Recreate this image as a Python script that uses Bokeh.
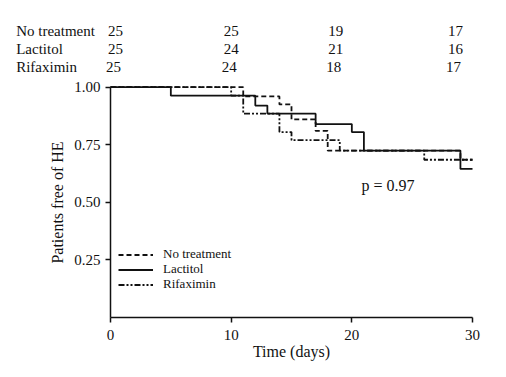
from bokeh.plotting import figure
from bokeh.models import Legend, LegendItem, Label, FixedTicker, Range1d
from bokeh.embed import file_html
from bokeh.resources import INLINE

# ---- data ----
groups = ["No treatment", "Lactitol", "Rifaximin"]
no_treat_t = [0, 11, 14, 15, 17, 18, 29, 30]
no_treat_s = [1.0, 0.96, 0.925, 0.86, 0.81, 0.725, 0.685, 0.685]
lactitol_t = [0, 5, 12, 13, 17, 20, 21, 29, 30]
lactitol_s = [1.0, 0.963, 0.92, 0.885, 0.84, 0.805, 0.725, 0.645, 0.645]
rifaximin_t = [0, 10, 11, 14, 15, 19, 26, 30]
rifaximin_s = [1.0, 0.963, 0.885, 0.805, 0.77, 0.725, 0.685, 0.685]
risk_times = [0, 10, 20, 30]
risk_no_treat = [25, 25, 19, 17]
risk_lactitol = [25, 24, 21, 16]
risk_rifaximin = [25, 24, 18, 17]
x_ticks = [0, 10, 20, 30]
y_ticks = [0.25, 0.5, 0.75, 1.0]
p_text = "p = 0.97"

FONT = "Liberation Serif"
INK = "#111111"

# layout geometry (pixels): axis origin at (110, 317), x=30 at 472, y=1 at 86.7
W, H = 500, 370
LEFT, TOP, BOTTOM, RIGHT = 5, 15, 3, 6
AX_X0, AX_X1 = 110, 472
AX_Y0, AX_Y1 = 317, 86.7
PPX = (AX_X1 - AX_X0) / 30.0
PPY = (AX_Y0 - AX_Y1) / 1.0


def xd(px):
    return (px - AX_X0) / PPX


def yd(py):
    return (AX_Y0 - py) / PPY


p = figure(width=W, height=H, output_backend="svg", toolbar_location=None,
           x_range=Range1d(xd(LEFT), xd(W - RIGHT)), y_range=Range1d(yd(H - BOTTOM), yd(TOP)),
           min_border_left=LEFT, min_border_right=RIGHT, min_border_top=TOP, min_border_bottom=BOTTOM)
p.outline_line_color = None
p.xgrid.visible = False
p.ygrid.visible = False
p.background_fill_color = "white"
p.border_fill_color = "white"

for ax in (p.xaxis[0], p.yaxis[0]):
    ax.axis_line_color = INK
    ax.axis_line_width = 1.5
    ax.major_tick_line_color = INK
    ax.major_tick_line_width = 1.5
    ax.major_tick_out = 5
    ax.major_tick_in = 0
    ax.minor_tick_line_color = None
    ax.major_label_text_font = FONT
    ax.major_label_text_font_size = "15px"
    ax.major_label_text_color = INK
    ax.axis_label_text_font = FONT
    ax.axis_label_text_font_size = "16px"
    ax.axis_label_text_font_style = "normal"
    ax.axis_label_text_color = INK

p.xaxis[0].ticker = FixedTicker(ticks=x_ticks)
p.xaxis[0].bounds = (0, 30)
p.xaxis[0].fixed_location = 0
p.yaxis[0].ticker = FixedTicker(ticks=y_ticks)
p.yaxis[0].bounds = (0, 1)
p.yaxis[0].fixed_location = 0
p.yaxis[0].major_label_overrides = {t: f"{t:.2f}" for t in y_ticks}
p.xaxis[0].axis_label = "Time (days)"
p.yaxis[0].axis_label = "Patients free of HE"
p.xaxis[0].major_label_standoff = 7
p.xaxis[0].axis_label_standoff = 0

styles = [("5 3", no_treat_t, no_treat_s),
          ("solid", lactitol_t, lactitol_s),
          ("6 2 2 2 2 2", rifaximin_t, rifaximin_s)]
legend_py = [254.2, 269.3, 284.4]
for name, (dash, t, s), ly in zip(groups, styles, legend_py):
    r = p.step(t, s, mode="after", line_color=INK, line_width=1.8, line_dash=dash)
    lg = Legend(items=[LegendItem(label=name, renderers=[r])],
                location=(118 - LEFT, H - BOTTOM - ly - 8), orientation="vertical",
                glyph_width=35, glyph_height=13, label_height=13, spacing=0,
                label_standoff=10, padding=0, margin=0,
                border_line_color=None, background_fill_alpha=0,
                label_text_font=FONT, label_text_font_size="13px",
                label_text_color=INK)
    p.add_layout(lg, "center")

p.add_layout(Label(x=xd(361), y=yd(185), text=p_text, text_font=FONT,
                   text_font_size="16px", text_color=INK,
                   text_baseline="middle", text_align="left"))

# numbers at risk table above the plot
row_py = [30.7, 48.3, 66.7]
row_shift = [0, 0, -2]
col_offset = [5, 0, -16, -17]
for name, counts, py, sh in zip(groups, [risk_no_treat, risk_lactitol, risk_rifaximin], row_py, row_shift):
    p.add_layout(Label(x=xd(15.7), y=yd(py), text=name,
                       text_font=FONT, text_font_size="15px", text_color=INK,
                       text_baseline="middle", text_align="left"))
    for tm, c, off in zip(risk_times, counts, col_offset):
        p.add_layout(Label(x=tm, y=yd(py), text=str(c),
                           x_offset=off + sh, text_font=FONT, text_font_size="15px",
                           text_color=INK, text_baseline="middle", text_align="center"))

open("out.html", "w").write(file_html(p, INLINE))
